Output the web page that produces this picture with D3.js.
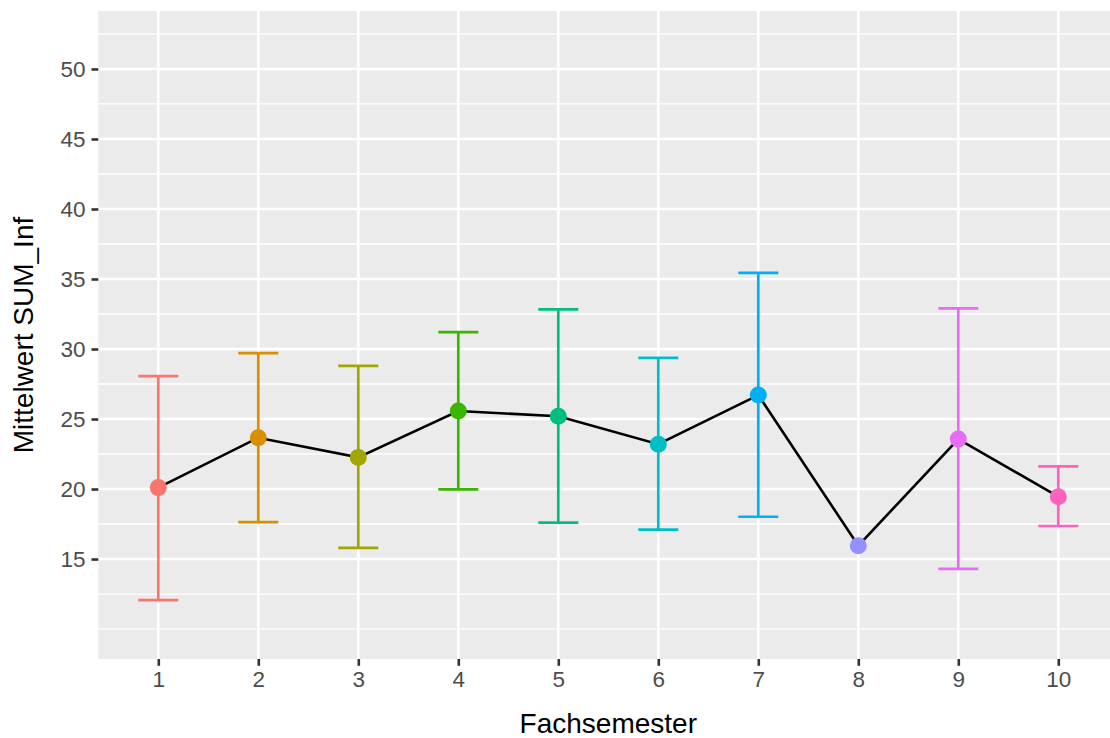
<!DOCTYPE html>
<html>
<head>
<meta charset="utf-8">
<script src="https://cdn.jsdelivr.net/npm/d3@7"></script>
<style>
  body { margin: 0; background: #fff; }
  text { font-family: "Liberation Sans", Arial, sans-serif; }
</style>
</head>
<body>
<svg id="chart" width="1110" height="738"></svg>
<script>
// Data
const semester = [1, 2, 3, 4, 5, 6, 7, 8, 9, 10];
const means = [20.1, 23.66, 22.26, 25.57, 25.2, 23.2, 26.71, 15.95, 23.57, 19.45];
const upper = [28.07, 29.7, 28.79, 31.2, 32.83, 29.36, 35.43, null, 32.9, 21.62];
const lower = [12.07, 17.64, 15.8, 19.97, 17.6, 17.1, 18.02, null, 14.29, 17.36];
const colors = ["#F8766D", "#D89000", "#A3A500", "#39B600", "#00BF7D",
                "#00BFC4", "#00B0F6", "#9590FF", "#E76BF3", "#FF62BC"];
const yTicks = [15, 20, 25, 30, 35, 40, 45, 50];
const yMinor = [10, 12.5, 17.5, 22.5, 27.5, 32.5, 37.5, 42.5, 47.5, 52.5];

const svg = d3.select("#chart");
const panel = { left: 98.3, right: 1118.3, top: 11, bottom: 659 };

const x = d3.scaleLinear().domain([0.4, 10.6]).range([panel.left, panel.right]);
const y = d3.scaleLinear().domain([7.86, 54.14]).range([panel.bottom, panel.top]);

const rows = semester.map((s, i) => ({ s, m: means[i], hi: upper[i], lo: lower[i], c: colors[i] }));

// panel background
svg.append("rect")
    .attr("x", panel.left).attr("y", panel.top)
    .attr("width", panel.right - panel.left).attr("height", panel.bottom - panel.top)
    .attr("fill", "#EBEBEB");

svg.append("defs").append("clipPath").attr("id", "clip")
    .append("rect")
    .attr("x", panel.left).attr("y", panel.top)
    .attr("width", panel.right - panel.left).attr("height", panel.bottom - panel.top);

const grid = svg.append("g");
grid.selectAll("line.minor").data(yMinor).enter().append("line")
    .attr("x1", panel.left).attr("x2", panel.right)
    .attr("y1", d => y(d)).attr("y2", d => y(d))
    .attr("stroke", "#fff").attr("stroke-width", 1.3);
grid.selectAll("line.majy").data(yTicks).enter().append("line")
    .attr("x1", panel.left).attr("x2", panel.right)
    .attr("y1", d => y(d)).attr("y2", d => y(d))
    .attr("stroke", "#fff").attr("stroke-width", 2.6);
grid.selectAll("line.majx").data(semester).enter().append("line")
    .attr("y1", panel.top).attr("y2", panel.bottom)
    .attr("x1", d => x(d)).attr("x2", d => x(d))
    .attr("stroke", "#fff").attr("stroke-width", 2.6);

const plot = svg.append("g").attr("clip-path", "url(#clip)");

// error bars
const eb = rows.filter(d => d.hi !== null);
const capHalf = x(1.2) - x(1);
const bars = plot.append("g").selectAll("g").data(eb).enter().append("g")
    .attr("stroke", d => d.c).attr("stroke-width", 2.7).attr("fill", "none");
bars.append("line")
    .attr("x1", d => x(d.s)).attr("x2", d => x(d.s))
    .attr("y1", d => y(d.lo)).attr("y2", d => y(d.hi));
bars.append("line")
    .attr("x1", d => x(d.s) - capHalf).attr("x2", d => x(d.s) + capHalf)
    .attr("y1", d => y(d.hi)).attr("y2", d => y(d.hi));
bars.append("line")
    .attr("x1", d => x(d.s) - capHalf).attr("x2", d => x(d.s) + capHalf)
    .attr("y1", d => y(d.lo)).attr("y2", d => y(d.lo));

// mean line
plot.append("path")
    .datum(rows)
    .attr("fill", "none")
    .attr("stroke", "#000")
    .attr("stroke-width", 2.6)
    .attr("d", d3.line().x(d => x(d.s)).y(d => y(d.m)));

// points
plot.append("g").selectAll("circle").data(rows).enter().append("circle")
    .attr("cx", d => x(d.s)).attr("cy", d => y(d.m))
    .attr("r", 8.5)
    .attr("fill", d => d.c);

// axes
const yAxis = svg.append("g")
    .attr("transform", `translate(${panel.left},0)`)
    .call(d3.axisLeft(y).tickValues(yTicks).tickSize(6.8).tickPadding(6).tickFormat(d3.format("d")));
const xAxis = svg.append("g")
    .attr("transform", `translate(0,${panel.bottom})`)
    .call(d3.axisBottom(x).tickValues(semester).tickSize(6.8).tickPadding(5).tickFormat(d3.format("d")));

[yAxis, xAxis].forEach(a => {
    a.select(".domain").remove();
    a.selectAll(".tick line").attr("stroke", "#333333").attr("stroke-width", 2.6);
    a.selectAll(".tick text")
        .attr("fill", "#4D4D4D")
        .style("font-size", "22.5px")
        .style("font-family", "'Liberation Sans', Arial, sans-serif");
});

// axis titles
svg.append("text")
    .attr("x", (panel.left + panel.right) / 2)
    .attr("y", 733)
    .attr("text-anchor", "middle")
    .style("font-size", "28px")
    .attr("fill", "#000")
    .text("Fachsemester");

svg.append("text")
    .attr("transform", `translate(33,${(panel.top + panel.bottom) / 2}) rotate(-90)`)
    .attr("text-anchor", "middle")
    .style("font-size", "28px")
    .attr("fill", "#000")
    .text("Mittelwert SUM_Inf");
</script>
</body>
</html>
